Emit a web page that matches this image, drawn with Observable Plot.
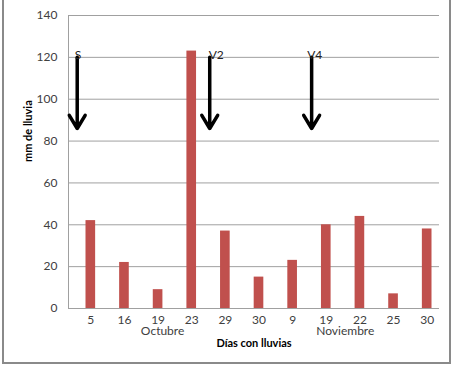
<!DOCTYPE html>
<html><head><meta charset="utf-8">
<script src="https://cdn.jsdelivr.net/npm/d3@7"></script>
<script src="https://cdn.jsdelivr.net/npm/@observablehq/plot@0.6"></script>
<style>
html,body{margin:0;padding:0;background:#fff;}
#wrap{position:relative;width:458px;height:368px;overflow:hidden;}
#wrap svg{position:absolute;left:0;top:0;}
#border{position:absolute;left:2px;top:-5px;width:449px;height:369px;box-sizing:border-box;border:2px solid #8a8a8a;pointer-events:none;}
</style></head><body>
<div id="wrap"><div id="border"></div></div>
<script>
// ---- data ----
const days   = [5, 16, 19, 23, 29, 30, 9, 19, 22, 25, 30];
const months = ["Octubre","Octubre","Octubre","Octubre","Octubre","Octubre","Noviembre","Noviembre","Noviembre","Noviembre","Noviembre"];
const rain   = [42, 22, 9, 123, 37, 15, 23, 40, 44, 7, 38];
const yTicks = [0, 20, 40, 60, 80, 100, 120, 140];
const arrowLabels = ["S", "V2", "V4"];
const arrowAt     = [0, 3, 6];      // category index the arrow sits next to
const arrowFrom   = 120;
const arrowTo     = 86;
const monthLabels = ["Octubre", "Noviembre"];
const monthAt     = [2, 7];
const yLabel = "mm de lluvia";
const xLabel = "Días con lluvias";

// ---- derived tables ----
const idx = days.map((d, i) => i);
const bars = idx.map(i => ({i, day: days[i], month: months[i], mm: rain[i]}));
const arrows = arrowLabels.map((l, k) => ({label: l, i: arrowAt[k], y1: arrowFrom, y2: arrowTo}));
const monthRows = monthLabels.map((m, k) => ({label: m, i: monthAt[k]}));

// ---- styling offsets (px) ----
const arrowDx = {S: -13.6, V2: 18, V4: 19};
const labelDx = {S: -16, V2: 17, V4: 14.5};
const monthDx = {Octubre: 4.5, Noviembre: 19};
const grid = "#a0a0a0";
const font = "Lato, 'Open Sans', sans-serif";

const chart = Plot.plot({
  width: 458,
  height: 368,
  marginTop: 15,
  marginBottom: 60,
  marginLeft: 68,
  marginRight: 19,
  style: {fontFamily: font, background: "transparent"},
  x: {type: "band", domain: idx, range: [73.5, 443.5], padding: 0, round: false},
  y: {domain: [0, 140]},
  marks: [
    Plot.ruleY(yTicks, {stroke: grid, strokeWidth: 1}),
    Plot.frame({anchor: "left", stroke: grid}),
    Plot.barY(bars, {x: "i", y: "mm", fill: "#c0504d", insetLeft: 12, insetRight: 12}),
    Plot.axisX({tickSize: 0, tickPadding: 7, tickFormat: i => days[i], label: null, fontSize: 12, color: "#404040"}),
    Plot.axisY({ticks: yTicks, tickSize: 0, tickPadding: 11, label: null, fontSize: 12, color: "#404040"}),
    ...arrows.map(a => Plot.arrow([a], {x1: "i", x2: "i", y1: "y1", y2: "y2", stroke: "black", strokeWidth: 3.5, headLength: 6.6, headAngle: 62, dx: arrowDx[a.label]})),
    ...arrows.map(a => Plot.text([a], {x: "i", y: "y1", text: "label", dx: labelDx[a.label], textAnchor: "start", lineAnchor: "bottom", dy: 2, fontSize: 12, fill: "#222"})),
    ...monthRows.map(m => Plot.text([m], {x: "i", y: () => 0, text: "label", dx: monthDx[m.label], dy: 23, fontSize: 12, fill: "#404040"})),
    Plot.text([yLabel], {text: d => d, frameAnchor: "left", rotate: -90, dx: -40, fontWeight: "bold", fontSize: 11, fill: "#000"}),
    Plot.text([xLabel], {text: d => d, frameAnchor: "bottom", dy: 38, fontWeight: "bold", fontSize: 11, fill: "#000"})
  ]
});
document.getElementById("wrap").prepend(chart);
</script>
</body></html>
